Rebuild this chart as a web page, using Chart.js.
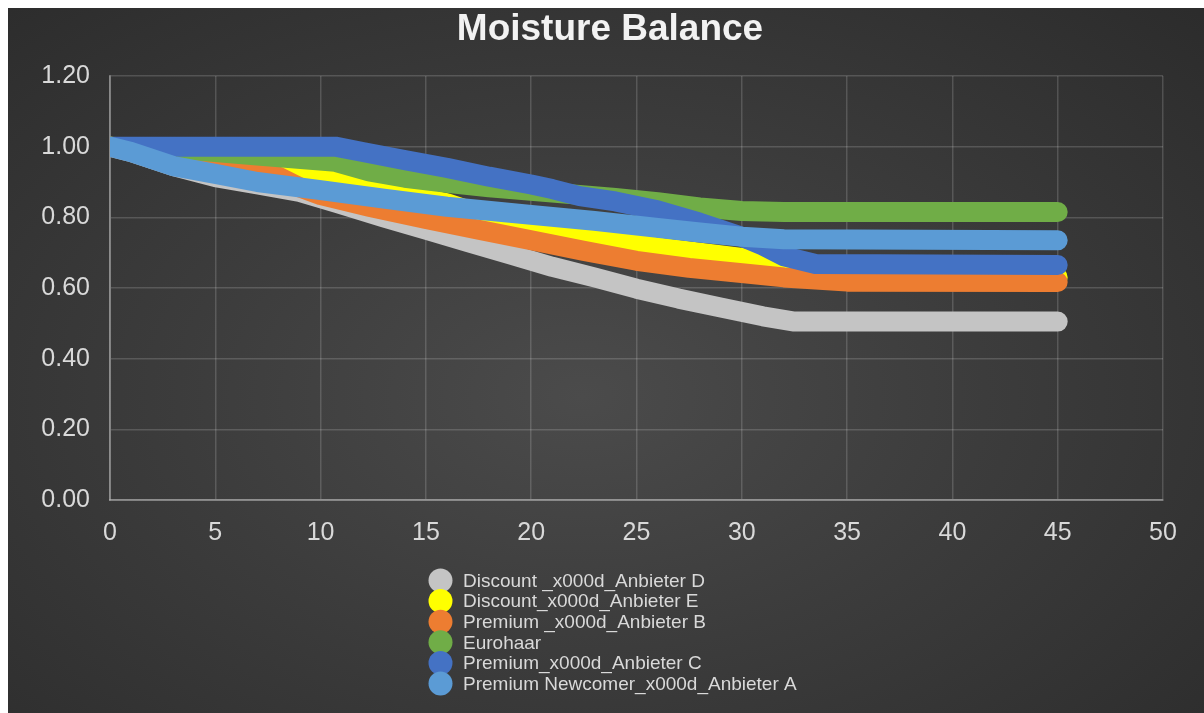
<!DOCTYPE html>
<html>
<head>
<meta charset="utf-8">
<script src="https://cdn.jsdelivr.net/npm/chart.js@4/dist/chart.umd.min.js"></script>
<style>
  html, body { margin: 0; padding: 0; background: #ffffff; }
  #frame {
    position: absolute; left: 8px; top: 8px; width: 1196px; height: 705px;
    background: radial-gradient(ellipse 75% 80% at 48% 55%, #4b4b4b 0%, #3c3c3c 45%, #2b2b2b 100%);
  }
  canvas { display: block; }
</style>
</head>
<body>
<div id="frame"><canvas id="c" width="1196" height="705"></canvas></div>
<script>
// Moisture balance over time per supplier
const seriesLabels = [
  'Discount _x000d_Anbieter D',
  'Discount_x000d_Anbieter E',
  'Premium _x000d_Anbieter B',
  'Eurohaar',
  'Premium_x000d_Anbieter C',
  'Premium Newcomer_x000d_Anbieter A'
];
const seriesColors = ['#c4c4c4', '#ffff00', '#ed7d31', '#70ad47', '#4472c4', '#5b9bd5'];

const anbieterD_x = [0, 1, 2, 3, 5, 7, 9, 10.8, 13, 15, 17, 19, 21, 23, 25, 27, 29, 31, 32.5, 45];
const anbieterD_y = [1.0, 0.985, 0.965, 0.945, 0.914, 0.893, 0.872, 0.84, 0.80, 0.765, 0.73, 0.695, 0.66, 0.63, 0.598, 0.57, 0.545, 0.52, 0.505, 0.505];

const anbieterE_x = [0, 3, 6, 8, 10, 12.3, 14, 16, 18, 20, 22, 24, 26, 28, 30, 32, 33.5, 35, 45];
const anbieterE_y = [1.0, 0.98, 0.958, 0.94, 0.92, 0.89, 0.865, 0.84, 0.80, 0.77, 0.75, 0.732, 0.715, 0.70, 0.685, 0.655, 0.635, 0.63, 0.63];

const anbieterB_x = [0, 3, 5, 7, 8, 9, 10, 12.3, 15, 17.5, 20, 22.5, 25, 27.5, 30, 32, 35, 45];
const anbieterB_y = [1.0, 0.975, 0.955, 0.935, 0.915, 0.885, 0.863, 0.83, 0.795, 0.765, 0.735, 0.705, 0.677, 0.657, 0.642, 0.63, 0.618, 0.617];

const eurohaar_x = [0, 4, 7, 10.7, 12.3, 14, 16, 18, 20, 22, 24, 26, 28, 30, 32, 45];
const eurohaar_y = [1.0, 0.99, 0.975, 0.957, 0.93, 0.912, 0.898, 0.885, 0.875, 0.865, 0.855, 0.843, 0.828, 0.818, 0.815, 0.815];

const anbieterC_x = [0, 10.7, 12, 14, 16, 18, 20, 21, 22.3, 24, 26, 28, 30, 31, 32, 33.5, 45];
const anbieterC_y = [1.0, 1.0, 0.985, 0.962, 0.94, 0.915, 0.893, 0.88, 0.86, 0.845, 0.82, 0.785, 0.745, 0.72, 0.69, 0.668, 0.665];

const anbieterA_x = [0, 1, 2, 3, 5, 7, 10, 13, 16, 20, 23, 26, 28, 30, 32, 45];
const anbieterA_y = [1.0, 0.985, 0.965, 0.945, 0.923, 0.90, 0.877, 0.853, 0.83, 0.807, 0.79, 0.77, 0.757, 0.745, 0.738, 0.735];

const xSeries = [anbieterD_x, anbieterE_x, anbieterB_x, eurohaar_x, anbieterC_x, anbieterA_x];
const ySeries = [anbieterD_y, anbieterE_y, anbieterB_y, eurohaar_y, anbieterC_y, anbieterA_y];

const textColor = '#d9d9d9';
const fontFamily = "'Liberation Sans', Arial, sans-serif";

const datasets = seriesLabels.map((label, i) => ({
  label,
  data: xSeries[i].map((x, j) => ({ x, y: ySeries[i][j] })),
  showLine: true,
  borderColor: seriesColors[i],
  backgroundColor: seriesColors[i],
  borderWidth: 20,
  borderCapStyle: 'round',
  borderJoinStyle: 'round',
  pointRadius: 0,
  pointHoverRadius: 0,
  tension: 0,
  yAxisID: 'y',
  // later series are painted over earlier ones
  order: seriesLabels.length - i
}));

// Vertical legend block under the axis
const stackedLegend = {
  id: 'stackedLegend',
  afterDraw(chart) {
    const ctx = chart.ctx;
    const x0 = 432.5, y0 = 572.5, step = 20.6, r = 12;
    ctx.save();
    ctx.font = '19px ' + fontFamily;
    ctx.textBaseline = 'middle';
    ctx.textAlign = 'left';
    chart.data.datasets.forEach((ds, i) => {
      const y = y0 + i * step;
      ctx.beginPath();
      ctx.fillStyle = ds.borderColor;
      ctx.arc(x0, y, r, 0, Math.PI * 2);
      ctx.fill();
    });
    chart.data.datasets.forEach((ds, i) => {
      const y = y0 + i * step;
      ctx.fillStyle = textColor;
      ctx.fillText(ds.label, 455, y + 1);
    });
    ctx.restore();
  }
};

new Chart(document.getElementById('c'), {
  type: 'scatter',
  data: { datasets },
  plugins: [stackedLegend],
  options: {
    responsive: false,
    animation: false,
    events: [],
    layout: { padding: { left: 20, right: 12, top: 0, bottom: 171 } },
    plugins: {
      legend: { display: false },
      tooltip: { enabled: false },
      title: {
        display: true,
        text: 'Moisture Balance',
        color: '#f2f2f2',
        font: { family: fontFamily, size: 37, weight: 'bold', lineHeight: 1.2 },
        padding: { top: 0, bottom: 23.6 }
      }
    },
    scales: {
      x: {
        type: 'linear',
        min: 0, max: 50,
        ticks: { stepSize: 5, color: textColor, padding: 18, font: { family: fontFamily, size: 25 } },
        grid: { color: 'rgba(255,255,255,0.16)', lineWidth: 1.5, drawTicks: false },
        border: { color: 'rgba(255,255,255,0.32)', width: 2 },
        afterFit(s) { s.height = 42; }
      },
      y: {
        position: 'left',
        min: 0, max: 1.2,
        ticks: { stepSize: 0.2, color: textColor, padding: 20, font: { family: fontFamily, size: 25 },
                 callback: v => v.toFixed(2) },
        grid: { color: 'rgba(255,255,255,0.16)', lineWidth: 1.5, drawTicks: false },
        border: { color: 'rgba(255,255,255,0.32)', width: 2 },
        afterFit(s) { s.width = 82; }
      },
      // empty right gutter so the plot ends at 50 with room for the last label
      gutter: {
        type: 'linear',
        position: 'right',
        min: 0, max: 1.2,
        ticks: { display: false },
        grid: { display: false, drawOnChartArea: false },
        border: { display: false },
        afterFit(s) { s.width = 29; }
      }
    }
  }
});
</script>
</body>
</html>
